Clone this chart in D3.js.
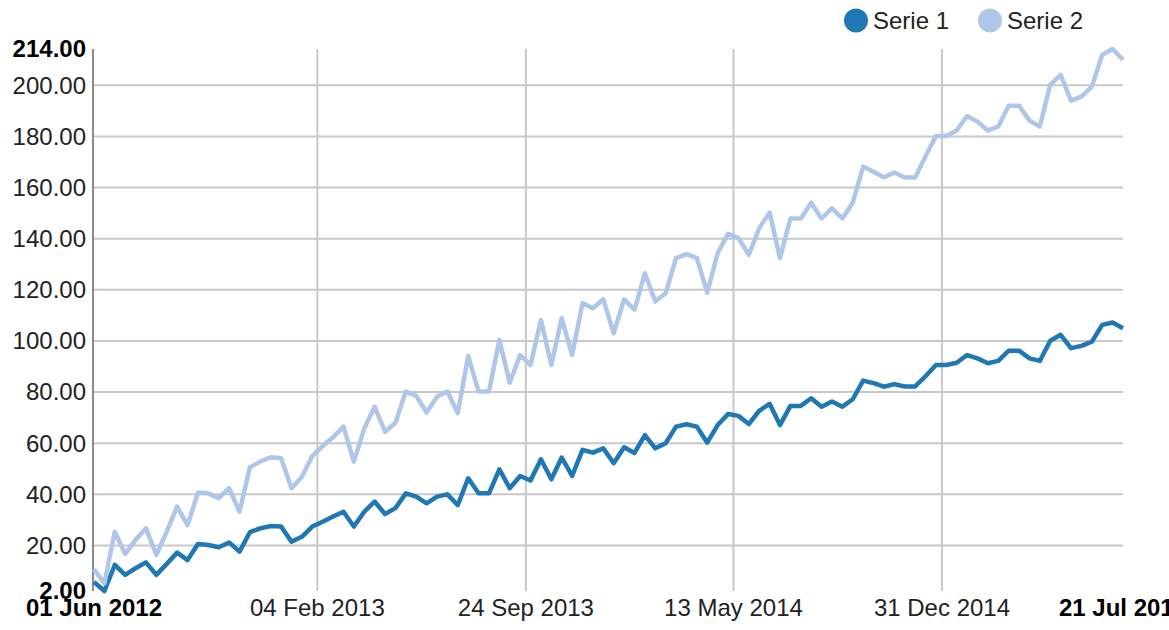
<!DOCTYPE html>
<html>
<head>
<meta charset="utf-8">
<script src="https://cdn.jsdelivr.net/npm/d3@7"></script>
<style>
  body { margin: 0; background: #fff; }
  svg { font-family: "Liberation Sans", Arial, sans-serif; }
  .grid line { stroke: #c8c8c8; stroke-width: 2px; }
  .grid .domain { display: none; }
  .grid text { fill: #222; font-size: 24px; }
  .maxmin { fill: #000; font-size: 24px; font-weight: bold; }
</style>
</head>
<body>
<div id="graph"></div>
<script>
// Series names and colours (legend order)
var seriesNames = ['Serie 1', 'Serie 2'];
var seriesColors = ['#1f77b4', '#aec7e8'];

// First and last date of the data; the 100 points are evenly spaced between them
var startDate = new Date(2012, 5, 1);
var endDate = new Date(2015, 6, 21);

// Values, one per point
var serie1 = [5.5, 2, 12.2, 8.3, 10.9, 13.2, 8.3, 12.6, 17, 14.1,
  20.4, 20, 19.1, 21, 17.4, 25, 26.5, 27.4, 27.2, 21.3,
  23.2, 27.2, 29.1, 31.1, 33, 27.2, 33, 37, 32.1, 34.4,
  40.2, 38.9, 36.3, 38.9, 39.8, 35.6, 46.1, 40.2, 40.2, 49.6,
  42.2, 47, 45.2, 53.5, 45.7, 54.2, 47, 57.2, 56.1, 57.8,
  52, 58.2, 56, 63, 57.8, 59.8, 66.3, 67.2, 66.3, 60,
  66.9, 71.2, 70.5, 67.3, 72.5, 75.2, 66.9, 74.4, 74.4, 77.4,
  74.1, 76.1, 74.1, 77, 84.3, 83.3, 81.9, 82.9, 82, 82,
  86, 90.4, 90.4, 91.3, 94.3, 93, 91.1, 92, 96, 96,
  93, 92, 99.9, 102.2, 97, 97.9, 99.5, 106.1, 107, 104.8];

var serie2 = [10.5, 5, 25.2, 16.5, 22, 26.5, 16.1, 25.2, 35, 27.8,
  40.5, 40.2, 38.3, 42.2, 33, 50.4, 52.6, 54.3, 53.9, 42.2,
  46.7, 54.8, 58.7, 62.1, 66.3, 52.6, 65.5, 74.1, 64.3, 67.8,
  80, 78.3, 71.8, 78, 80, 71.5, 93.9, 80, 80, 100.2,
  83.5, 94.3, 90.4, 108, 90.4, 108.7, 94.3, 114.6, 112.6, 116.1,
  102.8, 116.1, 112, 126.3, 115.2, 118.5, 132.2, 133.8, 132.2, 118.7,
  134.1, 141.7, 140, 133.5, 143.9, 150, 132.2, 147.7, 147.7, 153.9,
  147.7, 151.7, 147.7, 153.9, 168, 166, 163.8, 165.7, 163.7, 163.7,
  172, 180, 180, 182.1, 187.8, 185.6, 182.1, 183.7, 191.8, 191.8,
  186, 183.7, 200, 203.9, 193.8, 195.4, 199.3, 211.7, 214, 209.8];

// Tick values on both axes
var xTicks = [new Date(2013, 1, 4), new Date(2013, 8, 24), new Date(2014, 4, 13), new Date(2014, 11, 31)];
var yTicks = [20, 40, 60, 80, 100, 120, 140, 160, 180, 200];

window.onload = start;

function start() {
    var width = 1169;
    var height = 630;
    var left = 94, right = 1123, top = 49, bottom = 591;

    var svg = d3.select('#graph')
        .append('svg')
        .attr('width', width)
        .attr('height', height);

    var n = serie1.length;
    var dates = d3.range(n).map(function(i) {
        return new Date(+startDate + i * (endDate - startDate) / (n - 1));
    });
    var series = [serie1, serie2];

    var allValues = serie1.concat(serie2);
    var x = d3.scaleTime().domain([startDate, endDate]).range([left, right]);
    var y = d3.scaleLinear().domain(d3.extent(allValues)).range([bottom, top]);
    var fmt = d3.format('.2f');
    var dateFmt = d3.timeFormat('%d %b %Y');

    // y gridlines + labels
    svg.append('g')
        .attr('class', 'grid')
        .attr('transform', 'translate(' + left + ',0)')
        .call(d3.axisLeft(y).tickValues(yTicks).tickSize(-(right - left)).tickPadding(8).tickFormat(fmt))
        .selectAll('text').attr('dy', '0.35em');

    // x gridlines + labels
    svg.append('g')
        .attr('class', 'grid')
        .attr('transform', 'translate(0,' + bottom + ')')
        .call(d3.axisBottom(x).tickValues(xTicks).tickSize(-(bottom - top)).tickPadding(8).tickFormat(dateFmt))
        .selectAll('text').attr('dy', '0.71em');

    // y axis line
    svg.append('line')
        .attr('x1', left - 1).attr('x2', left - 1)
        .attr('y1', y.range()[1]).attr('y2', y.range()[0])
        .attr('stroke', '#666').attr('stroke-width', 1.5);

    // bold min / max labels
    svg.selectAll('.ymaxmin')
        .data(y.domain())
        .enter().append('text')
        .attr('class', 'maxmin')
        .attr('x', left - 8)
        .attr('y', function(d) { return y(d); })
        .attr('dy', '0.35em')
        .attr('text-anchor', 'end')
        .text(fmt);

    svg.selectAll('.xmaxmin')
        .data(x.domain())
        .enter().append('text')
        .attr('class', 'maxmin')
        .attr('x', function(d) { return x(d); })
        .attr('y', bottom + 8)
        .attr('dy', '0.71em')
        .attr('text-anchor', 'middle')
        .text(dateFmt);

    // the lines
    var line = d3.line()
        .x(function(d, i) { return x(dates[i]); })
        .y(function(d) { return y(d); });

    svg.selectAll('.serie')
        .data(series)
        .enter().append('path')
        .attr('class', 'serie')
        .attr('fill', 'none')
        .attr('stroke', function(d, i) { return seriesColors[i]; })
        .attr('stroke-width', 4.5)
        .attr('stroke-linejoin', 'round')
        .attr('d', line);

    // legend
    var legendX = [856, 990];
    var legend = svg.selectAll('.legend')
        .data(seriesNames)
        .enter().append('g')
        .attr('transform', function(d, i) { return 'translate(' + legendX[i] + ',20.5)'; });
    legend.append('circle')
        .attr('r', 12)
        .attr('fill', function(d, i) { return seriesColors[i]; });
    legend.append('text')
        .attr('x', 17)
        .attr('dy', '0.35em')
        .attr('font-size', 24)
        .attr('fill', '#222')
        .text(function(d) { return d; });
}
</script>
</body>
</html>
